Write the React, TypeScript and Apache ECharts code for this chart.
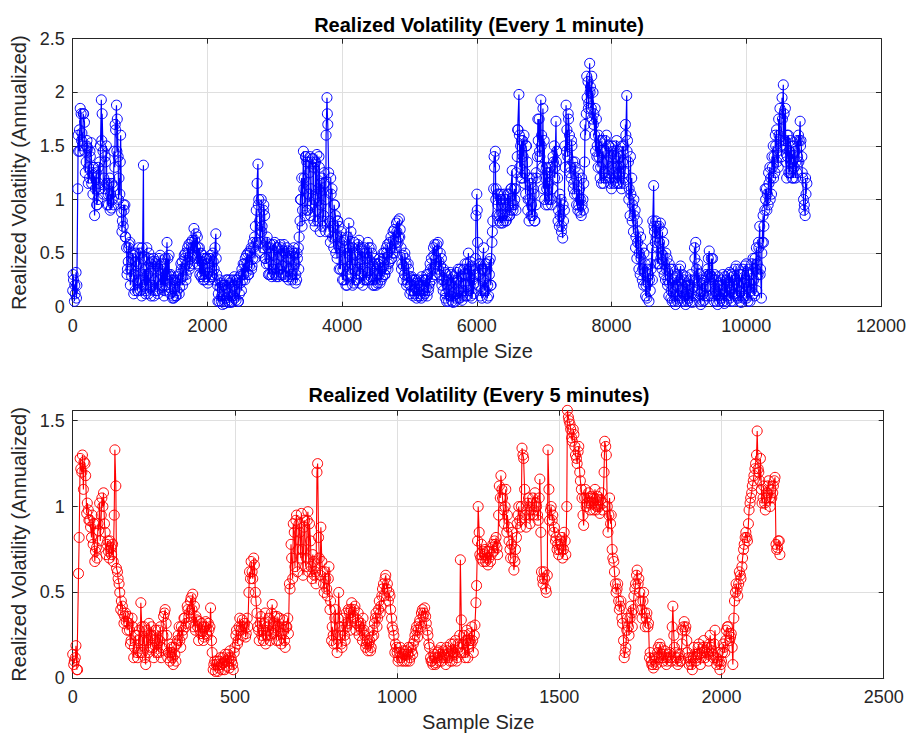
import React, { useEffect, useRef } from "react";
import * as echarts from "echarts";

// Sample spacing of the typed values
const STEP_1MIN = 25;
const OFFSET_1MIN_Q = 6;
const OFFSET_1MIN_MID = 12;
const STEP_5MIN = 5;
const OFFSET_5MIN_MID = 3;

const X_TICKS_1MIN = [0, 2000, 4000, 6000, 8000, 10000, 12000];
const Y_TICKS_1MIN = [0, 0.5, 1, 1.5, 2, 2.5];
const X_TICKS_5MIN = [0, 500, 1000, 1500, 2000, 2500];
const Y_TICKS_5MIN = [0, 0.5, 1, 1.5];
const Y_MAX_5MIN = 1.558;

const TITLE_1 = "Realized Volatility (Every 1 minute)";
const TITLE_2 = "Realized Volatility (Every 5 minutes)";
const X_NAME = "Sample Size";
const Y_NAME = "Realized Volatility (Annualized)";

// 1-minute realized volatility, samples 0, 25, 50, ... 10900
const vol1min = [
  0.15, 0.05, 0.32, 1.10, 1.65, 1.80, 1.50, 1.72, 1.35, 1.48, 1.20, 1.53, 1.05, 0.85, 1.25, 1.00, 1.35, 1.93, 1.45, 1.10,
  1.50, 1.05, 1.20, 0.92, 1.12, 1.30, 1.88, 1.40, 1.05, 0.88, 0.75, 0.95, 0.55, 0.42, 0.60, 0.28, 0.48, 0.15, 0.38, 0.25,
  0.50, 0.10, 1.32, 0.35, 0.55, 0.12, 0.40, 0.20, 0.45, 0.15, 0.38, 0.25, 0.48, 0.18, 0.35, 0.45, 0.60, 0.30, 0.12, 0.25,
  0.08, 0.22, 0.15, 0.30, 0.25, 0.42, 0.35, 0.50, 0.40, 0.58, 0.45, 0.62, 0.73, 0.55, 0.65, 0.38, 0.50, 0.30, 0.45, 0.28,
  0.40, 0.25, 0.48, 0.30, 0.35, 0.68, 0.20, 0.05, 0.22, 0.02, 0.15, 0.08, 0.25, 0.04, 0.18, 0.10, 0.28, 0.06, 0.22, 0.12,
  0.30, 0.25, 0.40, 0.32, 0.50, 0.38, 0.55, 0.45, 0.65, 0.90, 1.33, 0.80, 1.00, 0.55, 0.85, 0.40, 0.55, 0.30, 0.50, 0.35,
  0.60, 0.28, 0.45, 0.35, 0.55, 0.30, 0.50, 0.38, 0.45, 0.28, 0.52, 0.35, 0.40, 0.25, 0.55, 0.80, 1.20, 1.45, 0.85, 1.35,
  1.05, 1.40, 0.95, 1.30, 0.75, 1.42, 1.10, 0.70, 1.20, 0.85, 1.00, 1.95, 1.25, 0.60, 1.10, 0.55, 0.85, 0.45, 0.75, 0.35,
  0.60, 0.25, 0.55, 0.20, 0.78, 0.30, 0.55, 0.22, 0.48, 0.35, 0.62, 0.30, 0.52, 0.25, 0.45, 0.32, 0.55, 0.28, 0.40, 0.20,
  0.35, 0.22, 0.30, 0.42, 0.28, 0.50, 0.35, 0.58, 0.42, 0.65, 0.50, 0.72, 0.60, 0.80, 0.82, 0.55, 0.48, 0.30, 0.40, 0.22,
  0.28, 0.15, 0.25, 0.12, 0.22, 0.10, 0.20, 0.08, 0.25, 0.12, 0.18, 0.30, 0.22, 0.45, 0.35, 0.58, 0.40, 0.60, 0.30, 0.45,
  0.15, 0.32, 0.05, 0.25, 0.10, 0.30, 0.04, 0.22, 0.12, 0.35, 0.08, 0.28, 0.15, 0.40, 0.10, 0.50, 0.20, 0.38, 0.12, 0.30,
  1.05, 0.20, 0.40, 0.08, 0.55, 0.15, 0.35, 0.10, 0.45, 0.60, 1.10, 1.45, 0.85, 1.05, 0.78, 0.95, 0.80, 1.00, 0.85, 1.05,
  0.90, 1.27, 0.95, 1.10, 1.40, 1.98, 1.50, 1.20, 1.60, 1.05, 1.35, 0.80, 1.15, 0.85, 1.05, 0.95, 1.40, 1.75, 1.93, 1.30,
  1.55, 0.95, 1.25, 1.00, 1.30, 1.10, 1.50, 1.73, 1.20, 0.75, 1.00, 0.64, 0.90, 1.88, 1.40, 1.60, 1.20, 1.35, 1.05, 1.20,
  0.90, 1.10, 0.85, 1.00, 1.35, 1.80, 2.10, 2.27, 1.85, 2.00, 1.60, 1.75, 1.30, 1.55, 1.15, 1.45, 1.20, 1.60, 1.25, 1.40,
  1.10, 1.45, 1.20, 1.55, 1.15, 1.40, 1.10, 1.50, 1.25, 1.97, 1.35, 0.85, 1.20, 0.70, 0.90, 0.45, 0.70, 0.30, 0.55, 0.20,
  0.40, 0.08, 0.30, 0.15, 0.55, 1.13, 0.60, 0.75, 0.40, 0.78, 0.35, 0.60, 0.25, 0.45, 0.10, 0.35, 0.05, 0.25, 0.02, 0.30,
  0.10, 0.38, 0.05, 0.25, 0.02, 0.20, 0.08, 0.30, 0.04, 0.18, 0.60, 0.15, 0.30, 0.02, 0.22, 0.06, 0.18, 0.35, 0.52, 0.10,
  0.45, 0.05, 0.25, 0.02, 0.20, 0.08, 0.30, 0.03, 0.25, 0.10, 0.32, 0.05, 0.28, 0.12, 0.38, 0.08, 0.30, 0.04, 0.35, 0.10,
  0.40, 0.05, 0.30, 0.15, 0.45, 0.10, 0.55, 0.30, 0.75, 0.08, 0.85, 0.90, 1.10, 0.95, 1.30, 1.05, 1.50, 1.25, 1.65, 1.30,
  1.85, 1.40, 2.07, 1.55, 1.20, 1.60, 1.25, 1.50, 1.20, 1.45, 1.25, 1.60, 1.73, 1.40, 1.00, 0.85, 1.15,
];

// 1-minute realized volatility, samples 6, 31, 56, ... 10881
const vol1minQ = [
  0.30, 0.20, 0.08, 1.60, 1.45, 1.55, 1.80, 1.45, 1.50, 1.15, 1.45, 1.15, 1.30, 1.20, 0.95, 1.30, 1.10, 1.55, 1.05, 1.40,
  1.15, 0.95, 0.90, 1.15, 0.95, 1.70, 1.45, 1.00, 1.35, 0.70, 0.95, 0.65, 0.30, 0.55, 0.20, 0.45, 0.12, 0.42, 0.22, 0.55,
  0.15, 0.55, 0.30, 0.12, 0.20, 0.50, 0.18, 0.42, 0.10, 0.40, 0.15, 0.45, 0.20, 0.40, 0.10, 0.20, 0.25, 0.48, 0.30, 0.08,
  0.25, 0.10, 0.28, 0.12, 0.40, 0.20, 0.48, 0.25, 0.55, 0.35, 0.60, 0.40, 0.50, 0.68, 0.40, 0.55, 0.28, 0.48, 0.25, 0.45,
  0.22, 0.45, 0.28, 0.50, 0.25, 0.45, 0.05, 0.25, 0.05, 0.20, 0.03, 0.25, 0.05, 0.22, 0.04, 0.25, 0.08, 0.25, 0.05, 0.28,
  0.15, 0.40, 0.25, 0.48, 0.30, 0.52, 0.35, 0.60, 0.45, 0.60, 0.95, 0.50, 0.70, 0.90, 0.45, 0.60, 0.30, 0.55, 0.28, 0.58,
  0.30, 0.55, 0.28, 0.58, 0.30, 0.52, 0.28, 0.55, 0.25, 0.50, 0.30, 0.55, 0.22, 0.50, 0.35, 1.00, 0.75, 1.10, 1.40, 0.90,
  1.35, 0.85, 1.38, 0.80, 1.35, 0.90, 1.40, 1.15, 0.75, 1.25, 0.70, 1.80, 0.70, 1.20, 0.65, 0.95, 0.50, 0.80, 0.35, 0.65,
  0.25, 0.62, 0.20, 0.65, 0.35, 0.70, 0.20, 0.60, 0.25, 0.58, 0.22, 0.55, 0.20, 0.55, 0.25, 0.60, 0.25, 0.55, 0.20, 0.45,
  0.20, 0.40, 0.45, 0.25, 0.50, 0.30, 0.55, 0.35, 0.60, 0.45, 0.70, 0.50, 0.78, 0.60, 0.65, 0.35, 0.25, 0.50, 0.20, 0.40,
  0.12, 0.28, 0.10, 0.25, 0.08, 0.25, 0.10, 0.28, 0.10, 0.25, 0.30, 0.15, 0.40, 0.25, 0.55, 0.30, 0.58, 0.35, 0.50, 0.20,
  0.35, 0.08, 0.30, 0.05, 0.32, 0.05, 0.28, 0.05, 0.32, 0.08, 0.35, 0.06, 0.35, 0.10, 0.40, 0.15, 0.42, 0.08, 0.35, 0.45,
  0.90, 0.40, 0.10, 0.35, 0.15, 0.40, 0.08, 0.42, 0.20, 0.70, 1.40, 1.00, 1.05, 0.80, 1.05, 0.78, 1.05, 0.80, 1.05, 0.85,
  1.10, 0.95, 1.10, 0.90, 1.65, 1.60, 1.20, 1.55, 1.15, 1.50, 0.90, 1.20, 0.85, 1.20, 0.80, 1.25, 1.75, 1.45, 1.50, 1.85,
  1.00, 1.30, 0.95, 1.30, 1.00, 1.40, 1.20, 1.35, 0.80, 1.05, 0.70, 0.95, 1.50, 1.45, 1.80, 1.25, 1.55, 1.10, 1.35, 0.95,
  1.25, 0.88, 1.20, 0.90, 1.70, 2.15, 1.85, 2.00, 2.15, 1.70, 1.85, 1.40, 1.60, 1.20, 1.55, 1.15, 1.55, 1.20, 1.50, 1.15,
  1.50, 1.15, 1.50, 1.15, 1.45, 1.15, 1.50, 1.15, 1.70, 1.45, 1.00, 1.40, 0.80, 1.00, 0.55, 0.80, 0.35, 0.65, 0.25, 0.50,
  0.10, 0.35, 0.05, 0.40, 0.25, 0.75, 0.80, 0.40, 0.75, 0.45, 0.70, 0.30, 0.50, 0.20, 0.40, 0.08, 0.35, 0.05, 0.28, 0.05,
  0.35, 0.08, 0.30, 0.05, 0.28, 0.05, 0.25, 0.05, 0.25, 0.55, 0.25, 0.40, 0.05, 0.25, 0.05, 0.25, 0.30, 0.10, 0.30, 0.45,
  0.12, 0.30, 0.05, 0.28, 0.05, 0.25, 0.05, 0.28, 0.05, 0.30, 0.08, 0.30, 0.05, 0.35, 0.10, 0.35, 0.05, 0.30, 0.08, 0.38,
  0.08, 0.35, 0.05, 0.40, 0.12, 0.45, 0.15, 0.60, 0.30, 0.50, 0.60, 1.10, 0.90, 1.25, 1.00, 1.40, 1.20, 1.60, 1.35, 1.75,
  1.50, 1.95, 1.50, 1.85, 1.60, 1.25, 1.55, 1.20, 1.50, 1.20, 1.55, 1.35, 1.50, 1.25, 0.90, 1.20,
];

// 1-minute realized volatility, samples 12, 37, 62, ... 10887
const vol1minMid = [
  0.25, 0.12, 0.20, 1.45, 1.85, 1.62, 1.80, 1.25, 1.55, 1.30, 1.40, 1.25, 1.30, 1.10, 0.95, 1.15, 1.50, 1.80, 1.20, 1.35,
  0.95, 1.15, 1.05, 1.00, 1.45, 1.65, 1.75, 1.20, 1.60, 0.80, 0.90, 0.65, 0.35, 0.58, 0.35, 0.50, 0.30, 0.50, 0.15, 0.40,
  0.25, 0.45, 0.20, 0.15, 0.30, 0.45, 0.10, 0.35, 0.25, 0.42, 0.12, 0.35, 0.30, 0.20, 0.15, 0.30, 0.45, 0.18, 0.28, 0.10,
  0.18, 0.10, 0.25, 0.18, 0.35, 0.28, 0.45, 0.30, 0.50, 0.38, 0.55, 0.48, 0.62, 0.45, 0.55, 0.30, 0.42, 0.25, 0.35, 0.45,
  0.32, 0.45, 0.28, 0.42, 0.55, 0.30, 0.12, 0.18, 0.10, 0.20, 0.05, 0.18, 0.12, 0.25, 0.05, 0.20, 0.15, 0.25, 0.05, 0.22,
  0.35, 0.30, 0.45, 0.40, 0.30, 0.50, 0.38, 0.55, 0.75, 1.15, 1.00, 0.60, 0.75, 0.95, 0.45, 0.65, 0.40, 0.58, 0.30, 0.48,
  0.40, 0.55, 0.30, 0.48, 0.38, 0.58, 0.28, 0.52, 0.35, 0.45, 0.25, 0.50, 0.30, 0.45, 0.65, 1.00, 0.90, 1.20, 1.40, 0.90,
  1.25, 1.10, 1.38, 1.00, 1.05, 0.80, 1.30, 0.95, 0.80, 1.15, 1.60, 1.70, 0.80, 1.05, 0.75, 0.95, 0.65, 0.80, 0.55, 0.70,
  0.35, 0.45, 0.30, 0.50, 0.55, 0.40, 0.35, 0.50, 0.25, 0.55, 0.40, 0.45, 0.35, 0.50, 0.25, 0.45, 0.35, 0.50, 0.25, 0.40,
  0.30, 0.40, 0.22, 0.35, 0.45, 0.30, 0.50, 0.40, 0.55, 0.45, 0.62, 0.55, 0.70, 0.65, 0.72, 0.40, 0.38, 0.45, 0.25, 0.35,
  0.20, 0.25, 0.15, 0.25, 0.15, 0.22, 0.12, 0.20, 0.15, 0.25, 0.10, 0.18, 0.35, 0.28, 0.48, 0.45, 0.52, 0.42, 0.38, 0.25,
  0.25, 0.12, 0.20, 0.15, 0.22, 0.12, 0.18, 0.08, 0.25, 0.15, 0.22, 0.10, 0.30, 0.20, 0.30, 0.35, 0.10, 0.25, 0.22, 0.85,
  0.60, 0.30, 0.15, 0.35, 0.25, 0.40, 0.20, 0.30, 0.20, 0.80, 1.30, 1.10, 0.95, 0.85, 1.00, 0.85, 0.95, 0.80, 0.95, 0.85,
  1.10, 0.90, 1.00, 1.25, 1.65, 1.30, 1.55, 1.40, 1.25, 1.50, 1.00, 1.00, 0.95, 1.10, 0.80, 1.20, 1.55, 1.40, 1.60, 1.10,
  1.20, 1.10, 1.15, 1.25, 0.95, 1.35, 1.30, 1.45, 0.90, 0.85, 0.75, 0.80, 1.30, 1.65, 1.75, 1.30, 1.50, 1.15, 1.30, 1.05,
  0.95, 1.00, 0.95, 1.15, 1.60, 1.95, 1.90, 2.05, 1.75, 1.80, 1.45, 1.50, 1.40, 1.30, 1.35, 1.25, 1.45, 1.35, 1.50, 1.20,
  1.30, 1.25, 1.40, 1.30, 1.25, 1.30, 1.35, 1.20, 1.60, 1.55, 1.10, 1.05, 0.95, 0.85, 0.65, 0.60, 0.50, 0.45, 0.35, 0.32,
  0.20, 0.22, 0.25, 0.35, 0.80, 0.70, 0.65, 0.55, 0.60, 0.50, 0.48, 0.40, 0.35, 0.25, 0.22, 0.15, 0.18, 0.10, 0.20, 0.18,
  0.25, 0.15, 0.18, 0.10, 0.12, 0.15, 0.20, 0.12, 0.10, 0.45, 0.35, 0.22, 0.12, 0.15, 0.12, 0.10, 0.28, 0.45, 0.30, 0.28,
  0.25, 0.15, 0.12, 0.10, 0.15, 0.20, 0.12, 0.15, 0.18, 0.22, 0.15, 0.18, 0.20, 0.25, 0.22, 0.20, 0.15, 0.22, 0.22, 0.25,
  0.20, 0.18, 0.22, 0.30, 0.25, 0.35, 0.40, 0.55, 0.35, 0.60, 0.75, 1.00, 1.05, 1.15, 1.20, 1.30, 1.40, 1.50, 1.45, 1.60,
  1.55, 1.75, 1.80, 1.35, 1.40, 1.45, 1.35, 1.35, 1.30, 1.35, 1.40, 1.55, 1.55, 1.20, 0.95, 1.05,
];

// 5-minute realized volatility, samples 0, 5, 10, ... 2180
const vol5min = [
  0.14, 0.10, 0.19, 0.05, 0.82, 1.22, 1.30, 1.26, 1.18, 1.02, 0.92, 0.88, 0.95, 0.90, 0.74, 0.70, 0.86, 0.80, 1.05, 1.08,
  0.85, 0.78, 0.74, 0.80, 0.72, 0.68, 1.33, 0.64, 0.58, 0.50, 0.45, 0.38, 0.36, 0.33, 0.36, 0.28, 0.22, 0.30, 0.18, 0.25,
  0.12, 0.28, 0.44, 0.15, 0.30, 0.08, 0.22, 0.32, 0.18, 0.25, 0.12, 0.28, 0.20, 0.15, 0.30, 0.18, 0.36, 0.40, 0.25, 0.15,
  0.10, 0.18, 0.08, 0.14, 0.20, 0.25, 0.22, 0.30, 0.28, 0.35, 0.32, 0.40, 0.38, 0.47, 0.49, 0.42, 0.36, 0.30, 0.33, 0.26,
  0.30, 0.24, 0.33, 0.25, 0.28, 0.41, 0.15, 0.08, 0.04, 0.10, 0.06, 0.12, 0.05, 0.09, 0.14, 0.07, 0.12, 0.16, 0.10, 0.05,
  0.18, 0.28, 0.22, 0.35, 0.30, 0.25, 0.32, 0.26, 0.30, 0.62, 0.68, 0.58, 0.66, 0.45, 0.30, 0.22, 0.36, 0.28, 0.32, 0.20,
  0.30, 0.35, 0.25, 0.43, 0.32, 0.28, 0.36, 0.22, 0.30, 0.26, 0.34, 0.18, 0.30, 0.26, 0.52, 0.70, 0.90, 0.65, 0.95, 0.75,
  0.85, 0.96, 0.60, 0.92, 0.70, 0.97, 0.90, 0.65, 0.72, 0.60, 0.55, 1.25, 0.70, 0.88, 0.62, 0.50, 0.58, 0.48, 0.65, 0.45,
  0.30, 0.20, 0.40, 0.15, 0.50, 0.25, 0.18, 0.35, 0.22, 0.30, 0.40, 0.28, 0.44, 0.36, 0.42, 0.32, 0.38, 0.30, 0.28, 0.35,
  0.25, 0.20, 0.16, 0.22, 0.18, 0.28, 0.32, 0.38, 0.35, 0.45, 0.42, 0.52, 0.48, 0.60, 0.55, 0.50, 0.40, 0.30, 0.25, 0.20,
  0.15, 0.12, 0.18, 0.10, 0.16, 0.14, 0.10, 0.18, 0.12, 0.16, 0.20, 0.25, 0.30, 0.28, 0.34, 0.38, 0.36, 0.41, 0.32, 0.25,
  0.18, 0.10, 0.08, 0.12, 0.09, 0.15, 0.10, 0.18, 0.12, 0.14, 0.08, 0.16, 0.12, 0.20, 0.10, 0.15, 0.22, 0.12, 0.18, 0.69,
  0.15, 0.25, 0.12, 0.28, 0.18, 0.22, 0.30, 0.15, 0.31, 0.54, 1.00, 0.72, 0.78, 0.68, 0.75, 0.70, 0.66, 0.74, 0.72, 0.78,
  0.80, 0.82, 0.72, 1.12, 1.18, 1.05, 0.90, 1.10, 0.95, 0.80, 0.70, 0.85, 0.63, 0.75, 0.90, 1.00, 0.88, 1.34, 1.28, 0.95,
  0.98, 1.05, 0.90, 1.02, 0.95, 1.08, 1.00, 0.92, 1.16, 0.62, 0.55, 0.58, 0.50, 1.33, 0.92, 1.00, 0.95, 0.88, 0.82, 0.78,
  0.75, 0.80, 0.70, 0.85, 0.72, 1.56, 1.50, 1.45, 1.38, 1.42, 1.30, 1.25, 1.35, 1.15, 1.05, 0.89, 1.10, 1.02, 1.08, 0.98,
  1.05, 0.98, 1.10, 1.00, 1.04, 0.96, 1.08, 1.02, 1.38, 1.30, 0.85, 1.05, 0.95, 0.70, 0.62, 0.50, 0.55, 0.40, 0.45, 0.32,
  0.12, 0.18, 0.35, 0.25, 0.42, 0.30, 0.48, 0.55, 0.63, 0.58, 0.45, 0.35, 0.50, 0.30, 0.38, 0.32, 0.15, 0.08, 0.06, 0.10,
  0.12, 0.18, 0.20, 0.14, 0.10, 0.16, 0.08, 0.12, 0.15, 0.10, 0.42, 0.18, 0.12, 0.08, 0.14, 0.10, 0.28, 0.33, 0.30, 0.15,
  0.08, 0.12, 0.05, 0.18, 0.10, 0.14, 0.20, 0.08, 0.15, 0.22, 0.12, 0.18, 0.10, 0.25, 0.16, 0.12, 0.28, 0.08, 0.15, 0.05,
  0.10, 0.20, 0.15, 0.28, 0.30, 0.22, 0.26, 0.08, 0.45, 0.55, 0.48, 0.62, 0.58, 0.70, 0.78, 0.85, 0.80, 0.98, 1.05, 1.12,
  1.18, 1.25, 1.44, 1.20, 1.28, 1.02, 1.12, 0.98, 1.08, 1.15, 1.00, 1.05, 1.12, 1.17, 0.75, 0.80, 0.72,
];

// 5-minute realized volatility, samples 3, 8, 13, ... 2178
const vol5minMid = [
  0.08, 0.12, 0.05, 0.61, 1.28, 1.20, 1.10, 1.25, 0.96, 0.98, 0.92, 0.82, 0.78, 0.68, 0.76, 0.90, 1.02, 0.95, 1.00, 0.90,
  0.72, 0.80, 0.70, 0.76, 0.78, 0.95, 1.12, 0.62, 0.55, 0.40, 0.42, 0.32, 0.38, 0.28, 0.32, 0.20, 0.35, 0.12, 0.25, 0.15,
  0.22, 0.15, 0.30, 0.22, 0.12, 0.28, 0.15, 0.25, 0.30, 0.18, 0.22, 0.15, 0.28, 0.22, 0.12, 0.25, 0.38, 0.32, 0.12, 0.20,
  0.15, 0.12, 0.18, 0.10, 0.22, 0.30, 0.18, 0.25, 0.35, 0.30, 0.42, 0.36, 0.45, 0.40, 0.30, 0.28, 0.34, 0.22, 0.28, 0.32,
  0.22, 0.30, 0.26, 0.32, 0.30, 0.22, 0.05, 0.10, 0.08, 0.04, 0.10, 0.08, 0.12, 0.05, 0.10, 0.14, 0.06, 0.12, 0.08, 0.15,
  0.25, 0.20, 0.30, 0.28, 0.34, 0.30, 0.24, 0.35, 0.50, 0.58, 0.62, 0.70, 0.50, 0.38, 0.28, 0.32, 0.25, 0.22, 0.38, 0.25,
  0.28, 0.22, 0.38, 0.26, 0.36, 0.22, 0.30, 0.35, 0.20, 0.28, 0.22, 0.30, 0.35, 0.55, 0.78, 0.58, 0.85, 0.92, 0.62, 0.90,
  0.70, 0.75, 0.88, 0.65, 0.92, 0.62, 0.80, 0.58, 0.68, 0.62, 1.20, 0.82, 0.60, 0.68, 0.55, 0.62, 0.52, 0.58, 0.40, 0.22,
  0.25, 0.35, 0.20, 0.35, 0.30, 0.20, 0.28, 0.25, 0.38, 0.32, 0.38, 0.40, 0.35, 0.40, 0.28, 0.34, 0.25, 0.32, 0.22, 0.28,
  0.18, 0.22, 0.20, 0.16, 0.24, 0.25, 0.35, 0.30, 0.40, 0.38, 0.48, 0.55, 0.58, 0.52, 0.45, 0.48, 0.35, 0.28, 0.15, 0.18,
  0.10, 0.15, 0.12, 0.14, 0.10, 0.16, 0.14, 0.10, 0.18, 0.14, 0.22, 0.28, 0.24, 0.32, 0.30, 0.40, 0.38, 0.36, 0.28, 0.20,
  0.12, 0.10, 0.14, 0.08, 0.12, 0.16, 0.14, 0.10, 0.16, 0.12, 0.18, 0.14, 0.10, 0.16, 0.20, 0.14, 0.10, 0.20, 0.25, 0.34,
  0.20, 0.15, 0.22, 0.12, 0.26, 0.20, 0.22, 0.25, 0.44, 0.80, 0.85, 0.70, 0.74, 0.72, 0.68, 0.74, 0.70, 0.68, 0.76, 0.74,
  0.78, 0.76, 0.95, 1.05, 1.10, 0.98, 1.00, 0.85, 0.88, 0.75, 0.78, 0.70, 0.68, 0.82, 0.95, 0.92, 1.00, 1.30, 1.10, 0.88,
  1.02, 0.95, 0.98, 1.05, 0.98, 1.02, 0.95, 1.05, 0.85, 0.58, 0.62, 0.52, 0.60, 1.10, 0.98, 0.92, 0.85, 0.80, 0.75, 0.72,
  0.78, 0.82, 0.75, 0.80, 1.00, 1.52, 1.48, 1.40, 1.45, 1.35, 1.28, 1.32, 1.20, 1.10, 0.95, 1.05, 1.00, 1.05, 1.02, 1.06,
  1.02, 1.05, 0.98, 1.06, 1.00, 1.04, 0.98, 1.20, 1.35, 1.00, 0.95, 0.90, 0.75, 0.68, 0.55, 0.52, 0.45, 0.42, 0.35, 0.22,
  0.15, 0.28, 0.30, 0.35, 0.38, 0.40, 0.52, 0.60, 0.55, 0.50, 0.40, 0.45, 0.38, 0.35, 0.30, 0.12, 0.10, 0.08, 0.12, 0.08,
  0.15, 0.12, 0.18, 0.12, 0.14, 0.12, 0.10, 0.14, 0.12, 0.30, 0.25, 0.15, 0.10, 0.12, 0.10, 0.20, 0.30, 0.28, 0.22, 0.12,
  0.10, 0.08, 0.12, 0.14, 0.12, 0.18, 0.14, 0.12, 0.18, 0.16, 0.15, 0.14, 0.20, 0.18, 0.14, 0.20, 0.12, 0.10, 0.10, 0.08,
  0.15, 0.18, 0.22, 0.30, 0.26, 0.24, 0.18, 0.35, 0.50, 0.52, 0.55, 0.60, 0.65, 0.75, 0.82, 0.82, 0.90, 1.02, 1.08, 1.15,
  1.22, 1.30, 1.22, 1.15, 1.10, 1.05, 1.02, 1.05, 1.12, 1.05, 1.10, 1.08, 1.15, 0.78, 0.76, 0.80,
];

const FONT = "'Liberation Sans', Arial, Helvetica, sans-serif";
const AXIS_COLOR = "#262626";
const GRID_COLOR = "#dfdfdf";

const plainNum = (v: number) => String(v);

function mainX(gridIndex: number, max: number, interval: number) {
  return {
    type: "value",
    gridIndex,
    min: 0,
    max,
    interval,
    position: "bottom",
    name: X_NAME,
    nameLocation: "middle",
    nameGap: 34,
    nameTextStyle: { fontFamily: FONT, fontSize: 20, color: AXIS_COLOR },
    axisLine: { show: true, onZero: false, lineStyle: { color: AXIS_COLOR, width: 1 } },
    axisTick: { show: true, inside: true, length: 5, lineStyle: { color: AXIS_COLOR } },
    axisLabel: { fontFamily: FONT, fontSize: 18, color: AXIS_COLOR, margin: 10, formatter: plainNum },
    splitLine: { show: true, lineStyle: { color: GRID_COLOR, width: 1 } },
  };
}
function topX(gridIndex: number, max: number, interval: number) {
  return {
    type: "value",
    gridIndex,
    min: 0,
    max,
    interval,
    position: "top",
    axisLine: { show: true, onZero: false, lineStyle: { color: AXIS_COLOR, width: 1 } },
    axisTick: { show: true, inside: true, length: 5, lineStyle: { color: AXIS_COLOR } },
    axisLabel: { show: false },
    splitLine: { show: false },
  };
}
function mainY(gridIndex: number, max: number, interval: number) {
  return {
    type: "value",
    gridIndex,
    min: 0,
    max,
    interval,
    position: "left",
    name: Y_NAME,
    nameLocation: "middle",
    nameRotate: 90,
    nameGap: 34,
    nameTextStyle: { fontFamily: FONT, fontSize: 20, color: AXIS_COLOR },
    axisLine: { show: true, onZero: false, lineStyle: { color: AXIS_COLOR, width: 1 } },
    axisTick: { show: true, inside: true, length: 5, lineStyle: { color: AXIS_COLOR } },
    axisLabel: {
      fontFamily: FONT,
      fontSize: 18,
      color: AXIS_COLOR,
      margin: 8,
      showMaxLabel: Math.abs(max / interval - Math.round(max / interval)) < 1e-9,
      formatter: plainNum,
    },
    splitLine: { show: true, lineStyle: { color: GRID_COLOR, width: 1 } },
  };
}
function rightY(gridIndex: number, max: number, interval: number) {
  return {
    type: "value",
    gridIndex,
    min: 0,
    max,
    interval,
    position: "right",
    axisLine: { show: true, onZero: false, lineStyle: { color: AXIS_COLOR, width: 1 } },
    axisTick: { show: true, inside: true, length: 5, lineStyle: { color: AXIS_COLOR } },
    axisLabel: { show: false },
    splitLine: { show: false },
  };
}

// Combine interleaved sample sets into one series ordered by sample index
function merge(step: number, layers: [number[], number][]) {
  const pts: number[][] = [];
  layers.forEach(([vals, offset]) => vals.forEach((v, i) => pts.push([i * step + offset, v])));
  pts.sort((a, b) => a[0] - b[0]);
  return pts;
}

export default function App() {
  const ref = useRef<HTMLDivElement>(null);

  useEffect(() => {
    document.body.style.margin = "0";
    if (!ref.current) return;
    const chart = echarts.init(ref.current, undefined, { renderer: "svg" });

    const data1 = merge(STEP_1MIN, [
      [vol1min, 0],
      [vol1minQ, OFFSET_1MIN_Q],
      [vol1minMid, OFFSET_1MIN_MID],
    ]);
    const data2 = merge(STEP_5MIN, [
      [vol5min, 0],
      [vol5minMid, OFFSET_5MIN_MID],
    ]);

    const xMax1 = X_TICKS_1MIN[X_TICKS_1MIN.length - 1];
    const xInt1 = X_TICKS_1MIN[1] - X_TICKS_1MIN[0];
    const yMax1 = Y_TICKS_1MIN[Y_TICKS_1MIN.length - 1];
    const yInt1 = Y_TICKS_1MIN[1] - Y_TICKS_1MIN[0];
    const xMax2 = X_TICKS_5MIN[X_TICKS_5MIN.length - 1];
    const xInt2 = X_TICKS_5MIN[1] - X_TICKS_5MIN[0];
    const yInt2 = Y_TICKS_5MIN[1] - Y_TICKS_5MIN[0];

    const seriesBase = {
      type: "line",
      symbol: "circle",
      symbolSize: 10,
      showSymbol: true,
      showAllSymbol: true,
      clip: false,
    };

    chart.setOption({
      animation: false,
      backgroundColor: "#ffffff",
      title: [
        {
          text: TITLE_1,
          left: 479,
          top: 15,
          textAlign: "center",
          padding: 0,
          textStyle: { fontFamily: FONT, fontSize: 20, fontWeight: "bold", color: "#000" },
        },
        {
          text: TITLE_2,
          left: 479,
          top: 385,
          textAlign: "center",
          padding: 0,
          textStyle: { fontFamily: FONT, fontSize: 20, fontWeight: "bold", color: "#000" },
        },
      ],
      grid: [
        { left: 72.7, top: 38.7, width: 811, height: 268, show: false, containLabel: false },
        { left: 72.7, top: 410.7, width: 811, height: 267.6, show: false, containLabel: false },
      ],
      xAxis: [mainX(0, xMax1, xInt1), topX(0, xMax1, xInt1), mainX(1, xMax2, xInt2), topX(1, xMax2, xInt2)],
      yAxis: [mainY(0, yMax1, yInt1), rightY(0, yMax1, yInt1), mainY(1, Y_MAX_5MIN, yInt2), rightY(1, Y_MAX_5MIN, yInt2)],
      series: [
        {
          ...seriesBase,
          xAxisIndex: 0,
          yAxisIndex: 0,
          data: data1,
          lineStyle: { color: "#0000ff", width: 1.2 },
          itemStyle: { color: "rgba(0,0,0,0)", borderColor: "#0000ff", borderWidth: 1 },
        },
        {
          ...seriesBase,
          xAxisIndex: 2,
          yAxisIndex: 2,
          data: data2,
          lineStyle: { color: "#ff0000", width: 1.1 },
          itemStyle: { color: "rgba(0,0,0,0)", borderColor: "#ff0000", borderWidth: 1 },
        },
      ],
    });

    return () => chart.dispose();
  }, []);

  return <div ref={ref} style={{ width: 909, height: 734 }} />;
}
